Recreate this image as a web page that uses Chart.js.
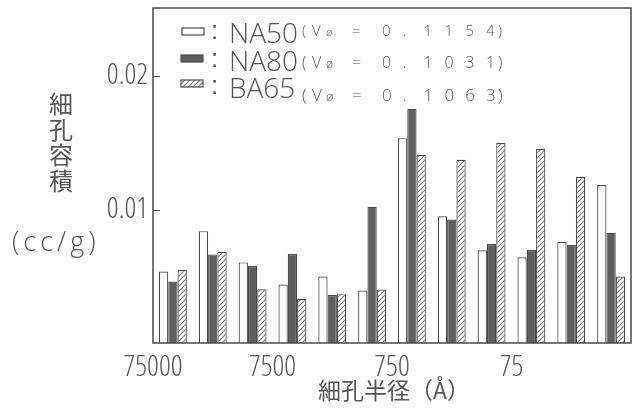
<!DOCTYPE html>
<html><head><meta charset="utf-8">
<script src="https://cdn.jsdelivr.net/npm/chart.js@4.4.1/dist/chart.umd.min.js"></script>
<style>html,body{margin:0;padding:0;background:#fff;}#wrap{width:635px;height:416px;}</style>
</head><body><div id="wrap"><canvas id="c" width="635" height="416"></canvas></div>
<script>
// ---- data ----
const categories = ['1','2','3','4','5','6','7','8','9','10','11','12'];
const xTickLabels = ['75000','7500','750','75'];
const xTickAt = [0, 3, 6, 9];            // category boundaries where labels sit
const yTicks = [0.01, 0.02];
const seriesNames = ['NA50', 'NA80', 'BA65'];
const seriesV0 = ['0.1154', '0.1031', '0.1063'];
const na50 = [0.00535, 0.00838, 0.00604, 0.00438, 0.00498, 0.00393, 0.01535, 0.00950, 0.00694, 0.00642, 0.00759, 0.01184];
const na80 = [0.00460, 0.00664, 0.00577, 0.00667, 0.00360, 0.01020, 0.01754, 0.00925, 0.00741, 0.00696, 0.00734, 0.00826];
const ba65 = [0.00547, 0.00684, 0.00403, 0.00331, 0.00366, 0.00400, 0.01410, 0.01373, 0.01498, 0.01455, 0.01244, 0.00498];
const yTitleChars = ['細','孔','容','積'];
const yUnit = '(cc/g)';
const xTitle = '細孔半径（Å）';

// ---- styles ----
const INK = '#555';
const LINE = '#4a4a4a';
const OPEN = '"Open Sans","Liberation Sans",sans-serif';
const SANS = '"Liberation Sans",Arial,sans-serif';
const CJK = '"Noto Sans CJK JP",sans-serif';

function hatch() {
  const p = document.createElement('canvas'); p.width = 5; p.height = 5;
  const g = p.getContext('2d');
  g.fillStyle = '#fff'; g.fillRect(0,0,5,5);
  g.strokeStyle = '#777'; g.lineWidth = 1.1;
  g.beginPath(); g.moveTo(-1,6); g.lineTo(6,-1); g.moveTo(-1,1); g.lineTo(1,-1); g.moveTo(4,6); g.lineTo(6,4); g.stroke();
  return g.createPattern(p, 'repeat');
}
const HATCH = hatch();
const fills = ['#ffffff', '#5e5e5e', HATCH];
const values = [na50, na80, ba65];

const decor = {
  id: 'decor',
  afterDraw(chart) {
    const ctx = chart.ctx, a = chart.chartArea, y = chart.scales.y;
    ctx.save();
    // frame
    ctx.strokeStyle = LINE; ctx.lineWidth = 1.5;
    ctx.strokeRect(a.left, a.top, a.right - a.left, a.bottom - a.top);
    // inward ticks
    ctx.beginPath();
    yTicks.forEach(v => { const py = Math.round(y.getPixelForValue(v)) + 0.5; ctx.moveTo(a.left, py); ctx.lineTo(a.left + 7, py); });
    ctx.lineWidth = 1.2; ctx.stroke();
    // legend
    const rows = [
      {box: [182, 28], big: 43, small: 36, ss: 14},
      {box: [181, 55], big: 70.5, small: 68, ss: 15},
      {box: [181, 80], big: 97.5, small: 101, ss: 16}
    ];
    rows.forEach((r, i) => {
      ctx.fillStyle = fills[i];
      ctx.fillRect(r.box[0], r.box[1], 22, 7);
      ctx.strokeStyle = LINE; ctx.lineWidth = 1.2;
      ctx.strokeRect(r.box[0], r.box[1], 22, 7);
      ctx.fillStyle = INK;
      ctx.textAlign = 'left'; ctx.textBaseline = 'alphabetic';
      ctx.font = `26px ${SANS}`;
      ctx.fillText(':', 211, r.big - 4);
      ctx.font = `300 28px ${OPEN}`;
      ctx.fillText(seriesNames[i], 229, r.big);
      const x0 = 302, b = r.small, s = r.ss;
      ctx.font = `300 ${s + 1}px ${OPEN}`;
      ctx.fillText('(', x0, b);
      ctx.fillText('V', x0 + 10, b);
      ctx.font = `300 ${Math.round(s*0.8)}px ${OPEN}`;
      ctx.fillText('ø', x0 + 24, b);
      ctx.font = `300 ${s + 1}px ${OPEN}`;
      ctx.fillText('=', x0 + 50, b);
      const str = seriesV0[i];
      for (let k = 0; k < str.length; k++) ctx.fillText(str[k], x0 + 80 + k * 20.8, b);
      ctx.fillText(')', x0 + 196, b);
    });
    // y title
    ctx.fillStyle = INK;
    ctx.font = `24px ${CJK}`; ctx.textAlign = 'center'; ctx.textBaseline = 'middle';
    yTitleChars.forEach((ch, i) => ctx.fillText(ch, 61, 104 + i * 25.6));
    ctx.font = `300 27px ${OPEN}`; ctx.textBaseline = 'alphabetic';
    let tx = 12; const step = [...yUnit].map(c => ctx.measureText(c).width + 4);
    ctx.textAlign = 'left';
    [...yUnit].forEach((c, i) => { ctx.fillText(c, tx, 251); tx += step[i]; });
    // x title
    ctx.font = `23px ${CJK}`; ctx.textAlign = 'center'; ctx.textBaseline = 'alphabetic';
    ctx.fillText(xTitle, 394, 399);
    ctx.restore();
  }
};

const tickFont = { family: OPEN, size: 29, weight: '300 condensed' };

new Chart(document.getElementById('c'), {
  type: 'bar',
  data: {
    labels: categories,
    datasets: values.map((v, i) => ({
      label: seriesNames[i], data: v, xAxisID: 'x', yAxisID: 'y',
      backgroundColor: fills[i], borderColor: LINE, borderWidth: 1.2,
      categoryPercentage: 0.7, barPercentage: 1.0
    }))
  },
  options: {
    responsive: false, animation: false, devicePixelRatio: 1,
    layout: { padding: { top: 8, right: 4, left: 0, bottom: 0 } },
    plugins: { legend: { display: false }, tooltip: { enabled: false } },
    scales: {
      x: { type: 'category', display: false, offset: true, grid: { display: false } },
      xl: {
        type: 'linear', position: 'bottom', min: 0, max: 12, offset: false,
        afterBuildTicks: s => { s.ticks = xTickAt.map(v => ({ value: v })); },
        afterFit: s => { s.height = 73; },
        grid: { display: false, drawTicks: false }, border: { display: false },
        ticks: { padding: 7, color: INK, font: tickFont, maxRotation: 0, autoSkip: false,
                 callback: (v, i) => xTickLabels[i] }
      },
      y: {
        min: 0, max: 0.0251,
        afterBuildTicks: s => { s.ticks = yTicks.map(v => ({ value: v })); },
        afterFit: s => { s.width = 153; s.paddingTop = 0; s.paddingBottom = 0; },
        grid: { display: false, drawTicks: false }, border: { display: false },
        ticks: { padding: 5, color: INK, font: tickFont, callback: v => v.toFixed(2) }
      }
    }
  },
  plugins: [decor]
});
</script></body></html>
